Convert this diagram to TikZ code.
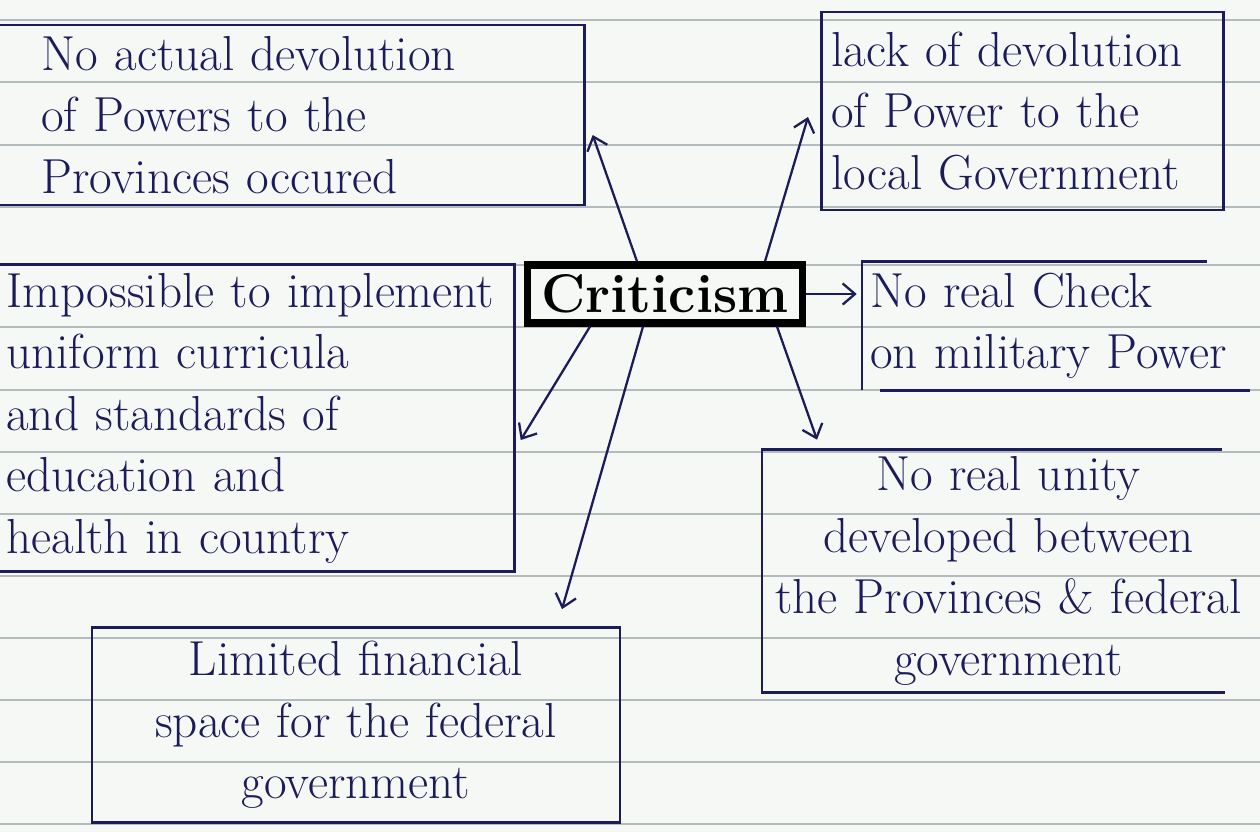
\documentclass[tikz,border=0pt]{standalone}
\usepackage{fontspec}
\usetikzlibrary{arrows.meta}

\definecolor{ink}{RGB}{28,28,90}
\definecolor{paper}{RGB}{246,248,246}
\definecolor{ruled}{RGB}{178,188,188}

\begin{document}
\begin{tikzpicture}[
    x=0.02cm, y=-0.02cm,
    font=\fontsize{28}{35}\selectfont,
    note/.style={rectangle, text=ink, inner sep=0},
    box/.style={note, draw=ink, line width=1.6pt},
    edge/.style={draw=ink, line width=1.6pt},
    arr/.style={draw=ink, line width=1.3pt, -{Straight Barb[length=7pt, width=12pt]}}
]

% ============================================
% HOJA RAYADA
% ============================================
\fill[paper] (0,0) rectangle (1260,832);
\useasboundingbox (0,0) rectangle (1260,832);
\foreach \y in {20,82,145,207,265,327,390,452,514,576,638,700,762,824}
    \draw[ruled, line width=0.8pt] (0,\y) -- (1260,\y);

% ============================================
% NODO CENTRAL
% ============================================
\node[box, draw=black, line width=4pt, text=black, minimum width=5.52cm,
      minimum height=1.16cm, font=\fontsize{31}{35}\selectfont\bfseries]
      (crit) at (665,294) {Criticism};

% ============================================
% CAJAS
% ============================================

% Arriba izquierda
\node[box, anchor=west, inner xsep=1cm, text width=9.86cm, minimum height=3.6cm,
      align=left] (devo) at (-10,115)
      {No actual devolution\\of Powers to the\\Provinces occured};

% Arriba derecha
\node[box, anchor=west, inner xsep=0.2cm, text width=7.64cm, minimum height=3.96cm,
      align=left] (local) at (820,111)
      {lack of devolution\\of Power to the\\local Government};

% Centro izquierda
\node[box, anchor=west, inner xsep=0.3cm, text width=9.86cm, minimum height=6.14cm,
      align=left] (curric) at (-10,418)
      {Impossible to implement\\uniform curricula\\and standards of\\education and\\health in country};

% Centro derecha (abierta)
\node[note, anchor=west, inner xsep=0.16cm, text width=8cm, minimum height=2.56cm,
      align=left] (check) at (862,326)
      {No real Check\\on military Power};
\draw[edge] ([xshift=6.9cm]check.north west) -- (check.north west) -- (check.south west);
\draw[edge] ([xshift=0.36cm]check.south west) -- ([xshift=7.76cm]check.south west);

% Abajo derecha (abierta)
\node[note, anchor=west, text width=9.84cm, minimum height=4.84cm,
      align=center] (unity) at (762,571)
      {No real unity\\developed between\\the Provinces \& federal\\government};
\draw[edge] ([xshift=9.2cm]unity.north west) -- (unity.north west)
    -- (unity.south west) -- ([xshift=9.26cm]unity.south west);

% Abajo izquierda
\node[box, text width=10.56cm, minimum height=3.9cm, align=center]
      (finance) at (356,725)
      {Limited financial\\space for the federal\\government};

% ============================================
% FLECHAS
% ============================================
\draw[arr] ([xshift=-0.56cm]crit.north) -- ([shift={(7,20)}]devo.east);
\draw[arr] ([xshift=2cm]crit.north) -- ([shift={(-12,6)}]local.west);
\draw[arr, shorten >=3pt] (crit.east) -- (crit.east -| check.west);
\draw[arr] ([xshift=2.24cm]crit.south) -- ([shift={(55,-10)}]unity.north west);
\draw[arr] ([xshift=-1.5cm]crit.south) -- ([shift={(5,22)}]curric.east);
\draw[arr] ([xshift=-0.44cm]crit.south) -- ([shift={(206,-17)}]finance.north);

\end{tikzpicture}
\end{document}
